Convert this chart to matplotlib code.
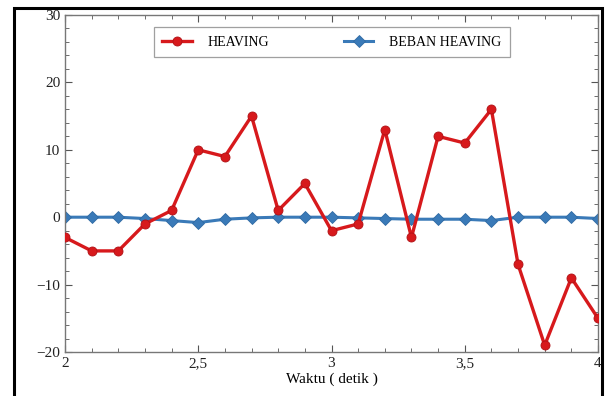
import matplotlib
matplotlib.use("Agg")
import matplotlib.pyplot as plt
from matplotlib.patches import Rectangle
from matplotlib.ticker import MultipleLocator, FuncFormatter

waktu = [2.0, 2.1, 2.2, 2.3, 2.4, 2.5, 2.6, 2.7, 2.8, 2.9, 3.0,
         3.1, 3.2, 3.3, 3.4, 3.5, 3.6, 3.7, 3.8, 3.9, 4.0]
heaving = [-3, -5, -5, -1, 1, 10, 9, 15, 1, 5, -2,
           -1, 13, -3, 12, 11, 16, -7, -19, -9, -15]
beban_heaving = [0, 0, 0, -0.2, -0.5, -0.8, -0.3, -0.1, 0, 0, 0,
                 -0.1, -0.2, -0.3, -0.3, -0.3, -0.5, 0, 0, 0, -0.2]
x_ticks = [2, 2.5, 3, 3.5, 4]
y_ticks = [-20, -10, 0, 10, 20, 30]

plt.rcParams["font.family"] = ["Liberation Serif", "DejaVu Serif"]

fig = plt.figure(figsize=(6.05, 3.96), dpi=100)
ax = fig.add_axes([65 / 605, 1 - 352 / 396, (598 - 65) / 605, (352 - 15) / 396])

# outer frame around the whole figure
fig.patches.append(Rectangle((14 / 605, -0.05), (602 - 14) / 605, 1.05 - 8 / 396,
                             transform=fig.transFigure, fill=False,
                             edgecolor="black", lw=2.2, zorder=0))

ax.plot(waktu, heaving, color="#d7191c", lw=2.4, marker="o", ms=6.5,
        markeredgecolor="#b01015", markeredgewidth=0.6, label="HEAVING", zorder=3)
ax.plot(waktu, beban_heaving, color="#3a7ab8", lw=2.2, marker="D", ms=6.5,
        markeredgecolor="#2f6aa3", markeredgewidth=0.6, label="BEBAN HEAVING", zorder=2)

ax.set_xlim(2, 4)
ax.set_ylim(-20, 30)
ax.set_xticks(x_ticks)
ax.set_yticks(y_ticks)
ax.xaxis.set_minor_locator(MultipleLocator(0.1))
ax.yaxis.set_minor_locator(MultipleLocator(2))
ax.xaxis.set_major_formatter(FuncFormatter(lambda v, p: f"{v:g}".replace(".", ",")))
ax.yaxis.set_major_formatter(FuncFormatter(lambda v, p: f"{v:g}".replace("-", "\u2212")))
ax.tick_params(which="both", direction="in", top=True, right=True,
               colors="#555555", labelcolor="#222222", labelsize=11)
ax.tick_params(which="major", length=5, width=0.8)
ax.tick_params(which="minor", length=3, width=0.6)
for s in ax.spines.values():
    s.set_color("#777777")
    s.set_linewidth(1.0)

ax.set_xlabel("Waktu ( detik )", fontsize=11, labelpad=2)

leg = ax.legend(loc="upper center", bbox_to_anchor=(0.501, 0.963), ncol=2,
                fontsize=10, frameon=True, fancybox=False, edgecolor="#888888",
                handlelength=2.1, columnspacing=5.4, borderpad=0.6,
                handletextpad=1.15, borderaxespad=0)
leg.get_frame().set_linewidth(0.9)

fig.savefig("out.png", dpi=100)
